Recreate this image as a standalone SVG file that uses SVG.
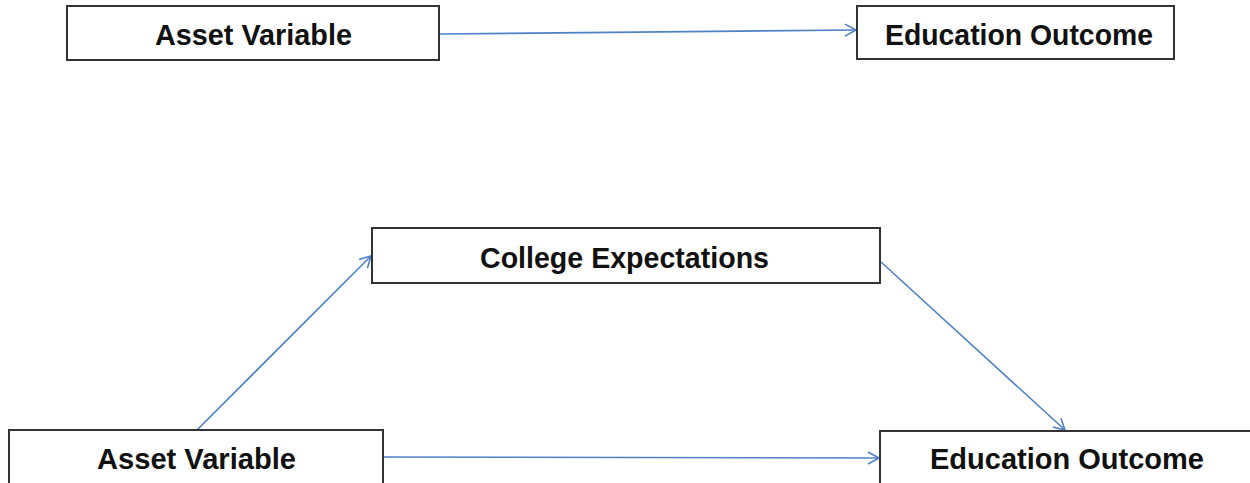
<svg xmlns="http://www.w3.org/2000/svg" width="1250" height="483" viewBox="0 0 1250 483">
<defs>
<marker id="arr" markerWidth="14" markerHeight="14" refX="12" refY="7" orient="auto" markerUnits="userSpaceOnUse">
<path d="M1,1 L12,7 L1,13" fill="none" stroke="#4F81C7" stroke-width="1.6"/>
</marker>
<style>
.box{fill:#fff;stroke:#333;stroke-width:2}
.lbl{font-family:"Liberation Sans",Arial,sans-serif;font-weight:bold;font-size:29px;fill:#111;text-anchor:middle}
.edge{fill:none;stroke:#4F81C7;stroke-width:1.6;marker-end:url(#arr)}
</style>
</defs>
<rect width="1250" height="483" fill="#fff"/>
<g id="connectors">
<line class="edge" x1="440" y1="34" x2="856" y2="30"/>
<line class="edge" x1="383" y1="457" x2="879" y2="458"/>
<line class="edge" x1="197" y1="430" x2="371" y2="256"/>
<line class="edge" x1="881" y1="262" x2="1065" y2="430"/>
</g>
<g id="top-asset">
<rect class="box" x="67" y="6" width="372" height="54"/>
<text class="lbl" x="253.5" y="45" textLength="197" lengthAdjust="spacingAndGlyphs">Asset Variable</text>
</g>
<g id="top-outcome">
<rect class="box" x="857" y="6" width="317" height="53"/>
<text class="lbl" x="1019" y="45" textLength="268" lengthAdjust="spacingAndGlyphs">Education Outcome</text>
</g>
<g id="college">
<rect class="box" x="372" y="228" width="508" height="55"/>
<text class="lbl" x="624.5" y="268" textLength="289" lengthAdjust="spacingAndGlyphs">College Expectations</text>
</g>
<g id="bottom-asset">
<rect class="box" x="9" y="430" width="374" height="60"/>
<text class="lbl" x="196.5" y="469" textLength="199" lengthAdjust="spacingAndGlyphs">Asset Variable</text>
</g>
<g id="bottom-outcome">
<rect class="box" x="880" y="431" width="380" height="60"/>
<text class="lbl" x="1067" y="469" textLength="274" lengthAdjust="spacingAndGlyphs">Education Outcome</text>
</g>
</svg>
